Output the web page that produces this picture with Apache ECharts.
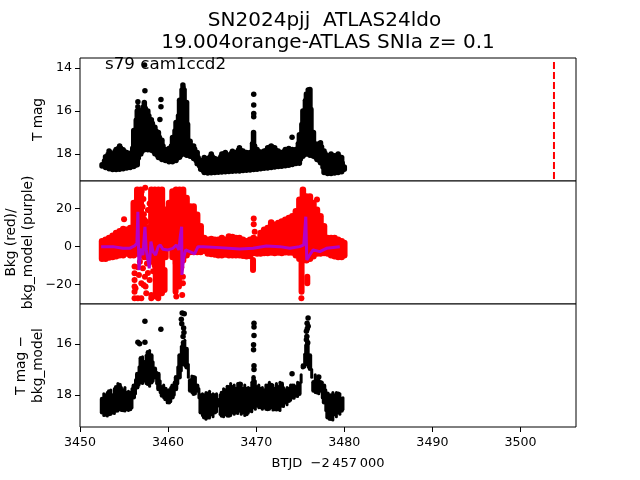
<!DOCTYPE html>
<html>
<head>
<meta charset="utf-8">
<style>html,body{margin:0;background:#fff}#main{width:640px;height:480px}</style>
<script src="https://cdn.jsdelivr.net/npm/echarts@6/dist/echarts.min.js"></script>
</head>
<body>
<div id="main"></div>
<script>
// time columns shared by the dense black bands
var btjd = [3452.5,3452.9,3453.3,3453.7,3454.1,3454.5,3454.9,3455.3,3455.7,3456.1,3456.5,3456.9,3457.3,3457.7,3458.1,3458.5,3458.9,3459.3,3459.7,3460.1,3460.5,3460.9,3461.3,3461.7,3462.1,3462.5,3462.9,3463.3,3463.7,3464.1,3464.5,3464.9,3465.3,3465.7,3466.1,3466.5,3466.9,3467.3,3467.7,3468.1,3468.5,3468.9,3469.3,3469.7,3470.1,3470.5,3470.9,3471.3,3471.7,3472.1,3472.5,3472.9,3473.3,3473.7,3474.1,3474.5,3474.9,3475.3,3475.7,3476.1,3476.5,3476.9,3477.3,3477.7,3478.1,3478.5,3478.9,3479.3,3479.7,3480.0];
// in-between columns for the finer spikes
var btjdMid = [3452.7,3453.1,3453.5,3453.9,3454.3,3454.7,3455.1,3455.5,3455.9,3456.3,3456.7,3457.1,3457.5,3457.9,3458.3,3458.7,3459.1,3459.5,3459.9,3460.3,3460.7,3461.1,3461.5,3461.9,3462.3,3462.7,3463.1,3463.5,3463.9,3464.3,3464.7,3465.1,3465.5,3465.9,3466.3,3466.7,3467.1,3467.5,3467.9,3468.3,3468.7,3469.1,3469.5,3469.9,3470.3,3470.7,3471.1,3471.5,3471.9,3472.3,3472.7,3473.1,3473.5,3473.9,3474.3,3474.7,3475.1,3475.5,3475.9,3476.3,3476.7,3477.1,3477.5,3477.9,3478.3,3478.7,3479.1,3479.5,3479.85];

// top panel, T mag
var magBright = [18.55,18.12,17.85,18.0,17.78,17.62,17.8,17.93,17.96,16.9,16.0,16.0,15.6,16.0,16.4,16.75,17.0,17.35,17.78,17.74,17.23,16.53,15.5,14.9,15.6,17.4,17.62,17.93,18.32,18.16,18.2,18.0,18.2,18.24,18.0,17.93,18.05,17.87,17.93,17.7,17.85,17.93,17.93,17.0,17.78,17.9,17.85,17.7,17.62,17.7,17.85,17.93,17.78,17.74,17.78,17.78,17.1,16.0,15.2,15.0,17.0,17.54,17.47,17.85,18.08,18.0,18.08,18.0,18.16,18.6];
var magFaint = [18.5,18.62,18.68,18.72,18.72,18.7,18.68,18.65,18.62,18.58,18.5,18.0,17.8,17.8,17.82,17.98,18.16,18.25,18.3,18.35,18.35,18.3,18.15,18.0,18.05,18.1,18.2,18.45,18.7,18.85,18.88,18.87,18.85,18.84,18.83,18.82,18.81,18.8,18.79,18.78,18.76,18.75,18.74,18.72,18.7,18.68,18.66,18.64,18.62,18.6,18.58,18.56,18.54,18.52,18.48,18.44,18.42,18.1,18.0,18.05,18.1,18.25,18.4,18.85,18.9,18.9,18.88,18.85,18.82,18.7];
var magMidBright = [18.3,18.0,17.9,17.85,17.7,17.7,17.85,17.95,17.7,16.4,15.9,15.8,15.85,16.2,16.55,16.9,17.2,17.6,17.8,17.6,16.9,16.2,15.0,15.0,16.6,17.6,17.75,18.15,18.25,18.2,18.1,18.1,18.25,18.1,17.95,18.0,17.95,17.9,17.8,17.8,17.9,17.95,17.5,17.6,17.85,17.9,17.8,17.65,17.65,17.8,17.9,17.85,17.75,17.75,17.8,17.5,16.6,15.5,15.0,15.9,17.5,17.5,17.65,17.95,18.05,18.05,18.05,18.1,18.4];
var magMidFaint = [18.55,18.65,18.7,18.72,18.71,18.69,18.66,18.63,18.6,18.55,18.2,17.9,17.8,17.8,17.9,18.08,18.2,18.28,18.32,18.35,18.32,18.22,18.08,18.02,18.08,18.15,18.32,18.58,18.78,18.86,18.88,18.86,18.84,18.83,18.82,18.81,18.8,18.79,18.78,18.77,18.75,18.74,18.73,18.71,18.69,18.67,18.65,18.63,18.61,18.59,18.57,18.55,18.53,18.5,18.46,18.43,18.25,18.05,18.02,18.08,18.18,18.32,18.62,18.88,18.9,18.89,18.86,18.84,18.76];
var magPointT = [3457.33,3457.37,3456.57,3456.57,3456.57,3459.19,3459.19,3459.07,3469.72,3469.72,3469.72,3469.72,3474.07,3461.68,3461.68,3475.9,3475.8];
var magPointV = [13.86,15.05,15.57,15.8,16.26,15.46,15.8,16.39,15.21,15.72,16.11,16.26,17.22,14.79,15.1,15.02,15.33];

// middle panel, background
var bkgHigh = [2.7,3.6,4.5,5.7,7.1,8,9.2,8.8,9.7,22.9,29.9,29.9,14,10,29.9,29.9,29.9,29.9,19.4,22.9,29,29.9,29.9,29.9,25.5,21.1,21.1,16.7,10.6,4.5,3.6,4,3.6,3.6,4.5,3.6,5.3,5,4.5,4.5,3.6,2.7,3.6,4.5,3.6,7.1,8.8,9.7,12.7,11.5,12.4,13.2,14.1,15,15.9,18.5,24.6,29.9,26.4,26.4,22.9,19.4,15.9,10.6,4.5,4.5,4.5,3.6,2.7,1.8];
var bkgLow = [-6.4,-6.4,-5.8,-5.5,-5.1,-4.6,-4.6,-3.7,-4.6,-4.6,-3.7,-4.6,-5.5,-5.5,-7.3,-9.9,-10.8,-10.8,-5.5,-0.2,-5.5,-9,-7.3,-7.3,-4.6,-2.9,-2.9,-2.9,-2.9,-2.3,-3.7,-3.9,-4.2,-4.6,-4.6,-4.2,-4.6,-4.6,-4.6,-4.6,-4.9,-5.1,-5,-3.4,-3.7,-3.7,-3.4,-3.4,-3.2,-3.4,-3.2,-3.4,-3,-3.2,-3.2,-4.6,-6.4,-7.3,-7.3,-6.4,-5.1,-3.7,-3.7,-3.4,-3.7,-4.6,-5.1,-5.5,-5.5,-4.6];
var bkgGapT = [3458.6,3458.88,3459.3,3459.6,3460.85,3461.23,3475.15,3469.64,3475.8];
var bkgGapHigh = [-10.6,-7.1,-7.1,-12.4,-7.1,-7.1,-7.1,-7.1,-15.9];
var bkgGapLow = [-26.4,-27.3,-24.6,-22.9,-23.8,-21.1,-23.8,-12.4,-19.4];
var bkgPointT = [3456.19,3456.19,3456.19,3456.19,3456.19,3456.19,3456.57,3456.57,3456.69,3456.96,3456.96,3457.14,3457.22,3457.37,3457.44,3457.52,3457.71,3457.9,3458.09,3458.09,3458.09,3460.93,3461.6,3461.68,3461.68,3475.13,3455.0,3469.72,3469.72,3469.83,3476.9,3457.0,3457.2,3457.1,3457.25,3457.71,3457.9,3457.4,3457.5,3456.3,3456.8,3457.6,3458.3,3461.5];
var bkgPointV = [-10.6,-14.1,-17.6,-21.1,-23.8,-27.3,-11,-27.3,-15,-19.4,-27.3,-11.5,-20.3,-15.9,-21.1,-24.6,-14,-17.6,-8,-25.5,-27.3,-26.4,-25.5,-15.9,-19.4,-27.3,14.3,14.8,11.7,7.8,24.8,29,25,21,17,19.2,22.7,31,13,-22,-8,-9,-13,-11];

// middle panel, purple model curve
var modelT = [3452.4,3453.73,3454.87,3455.63,3456.19,3456.46,3456.57,3456.69,3456.91,3457.14,3457.37,3457.52,3457.71,3457.86,3458.05,3458.28,3458.58,3458.88,3459.11,3459.41,3459.98,3460.55,3460.93,3461.23,3461.38,3461.54,3461.57,3461.76,3461.99,3462.44,3463.01,3463.39,3463.96,3465.85,3468.13,3469.64,3471.16,3472.67,3473.81,3474.94,3475.4,3475.63,3475.74,3476.08,3476.46,3477.22,3477.98,3479.49];
var modelV = [-0.08,-0.08,-0.96,-0.96,0.27,1.67,18.3,-12.4,-0.96,-4.5,10.4,-1.8,-7.1,-11.5,2.55,-2.7,-4.5,-0.08,0.8,-1.5,-1.8,-0.96,0.8,-1.8,5.2,10.4,-15,-6.2,-1.8,-2.7,-3.9,-0.08,-0.08,-0.6,-1.3,-0.96,0.27,-0.08,-0.96,-0.08,0.8,15.7,-7.1,-4.5,-1.8,-2.7,-0.96,-0.08];

// bottom panel, T mag minus bkg_model
var subBright = [18.15,18.02,17.86,18.02,17.69,17.6,17.82,17.92,17.92,17.63,17.17,16.56,16.71,16.32,16.45,16.97,17.17,17.69,17.76,17.82,17.63,17.3,16.45,15.93,16.19,17.43,17.3,17.63,18.02,18.02,17.95,18.02,18.02,18.2,17.92,17.82,17.69,17.69,17.76,17.63,17.76,17.76,17.76,17.3,17.69,17.76,17.82,17.63,17.6,17.76,17.69,17.56,17.82,17.76,17.63,17.69,17.56,16.84,16.06,16.45,17.5,17.43,17.5,17.63,17.95,18.02,18.02,17.95,18.15,18.28];
var subFaint = [18.67,18.76,18.74,18.67,18.6,18.54,18.58,18.54,18.54,18.08,17.69,17.5,17.43,17.56,17.5,17.3,17.76,18.02,18.15,18.28,18.08,17.76,17.3,16.78,16.91,17.82,17.95,17.82,18.67,18.87,18.87,18.74,18.67,18.4,18.8,18.74,18.8,18.67,18.67,18.6,18.67,18.74,18.6,18.47,18.41,18.47,18.47,18.54,18.47,18.54,18.54,18.41,18.28,18.22,18.08,18.02,17.95,16.91,16.78,16.97,17.82,17.89,17.82,18.28,18.87,18.93,18.74,18.67,18.6,18.28];
var subMidBright = [17.95,17.9,17.8,17.75,17.55,17.7,17.7,17.85,17.75,17.4,16.9,16.5,16.45,16.25,16.7,17.1,17.45,17.6,17.85,17.7,17.5,16.9,16.1,15.85,16.8,17.25,17.3,17.75,17.95,17.9,17.85,17.95,17.95,18.0,17.75,17.65,17.55,17.6,17.55,17.55,17.6,17.7,17.5,17.45,17.6,17.7,17.6,17.5,17.6,17.55,17.5,17.7,17.7,17.6,17.6,17.5,17.2,16.4,15.9,17.0,17.2,17.3,17.5,17.8,18.0,17.9,17.9,17.95,18.1];
var subMidFaint = [18.8,18.82,18.75,18.72,18.62,18.6,18.62,18.6,18.5,17.95,17.6,17.55,17.55,17.65,17.45,17.55,17.9,18.1,18.3,18.25,18.0,17.55,17.05,16.85,17.3,17.9,17.95,18.1,18.8,18.95,18.9,18.85,18.65,18.75,18.85,18.82,18.8,18.75,18.72,18.75,18.8,18.7,18.65,18.55,18.5,18.55,18.55,18.55,18.58,18.58,18.6,18.45,18.38,18.2,18.12,18.05,17.5,16.9,16.9,17.3,17.9,17.95,18.1,18.6,18.95,18.98,18.85,18.75,18.55];
var subPointT = [3456.57,3456.76,3457.37,3457.37,3459.18,3461.6,3461.83,3461.5,3461.76,3461.7,3469.75,3469.75,3469.75,3469.7,3469.7,3469.75,3469.75,3474.07,3468.16,3477.1,3475.89,3475.78,3475.7,3475.7,3461.55,3461.8,3475.8,3475.75,3475.9,3475.85];
var subPointV = [15.93,15.99,15.11,15.93,15.42,14.78,14.81,15.03,15.37,15.7,15.18,15.33,15.66,16.03,16.22,16.85,17.0,17.16,17.57,17.29,14.98,15.18,15.5,15.83,15.2,15.55,15.4,15.7,15.3,15.95];

var xTicks = [3450,3460,3470,3480,3490,3500];
var magTicks = [14,16,18];
var bkgTicks = [-20,0,20];
var subTicks = [16,18];
var peakLineT = [3503.8,3503.8];
var peakLineV = [13.72,19.25];

var FONT = "DejaVu Sans";

function zip(a, b) { return a.map(function (v, i) { return [v, b[i]]; }); }

function bandData(t, hi, lo) { return t.map(function (v, i) { return [v, hi[i], lo[i]]; }); }

function band(idx, data, color, width) {
  return {
    type: "custom", xAxisIndex: idx, yAxisIndex: idx, data: data, silent: true,
    encode: { x: 0, y: [1, 2] },
    renderItem: function (params, api) {
      var a = api.coord([api.value(0), api.value(1)]);
      var b = api.coord([api.value(0), api.value(2)]);
      return {
        type: "line",
        shape: { x1: a[0], y1: a[1], x2: b[0], y2: b[1] },
        style: { stroke: color, lineWidth: width, lineCap: "round" }
      };
    }
  };
}

function points(idx, data, color, size) {
  return { type: "scatter", xAxisIndex: idx, yAxisIndex: idx, data: data, symbolSize: size, silent: true, itemStyle: { color: color, opacity: 1 } };
}

function tickText(v) { return String(v).replace("-", "\u2212"); }

function xAxis(idx, labels) {
  return {
    type: "value", gridIndex: idx, min: 3450, max: 3506.3, splitLine: { show: false },
    axisLine: { show: false },
    axisTick: { show: labels, length: 5, lineStyle: { color: "#000", width: 1 }, customValues: xTicks },
    axisLabel: { show: labels, color: "#000", fontSize: 12.6, margin: 9.5, fontFamily: FONT, formatter: tickText, customValues: xTicks },
    name: labels ? "BTJD  \u22122\u2009457\u2009000" : "",
    nameLocation: "middle", nameGap: 30, nameMoveOverlap: false, nameTextStyle: { color: "#000", fontSize: 13, fontFamily: FONT }
  };
}

function yAxis(idx, min, max, inverse, ticks, name, gap) {
  return {
    type: "value", gridIndex: idx, min: min, max: max, inverse: inverse, splitLine: { show: false },
    axisLine: { show: false },
    axisTick: { length: 5, lineStyle: { color: "#000", width: 1 }, customValues: ticks },
    axisLabel: { color: "#000", fontSize: 12.6, margin: 8, fontFamily: FONT, formatter: tickText, customValues: ticks },
    name: name, nameLocation: "middle", nameGap: gap, nameRotate: 90, nameMoveOverlap: false,
    nameTextStyle: { color: "#000", fontSize: 13.7, lineHeight: 17, fontFamily: FONT }
  };
}

function grid(top) {
  return { left: 80, width: 496, top: top, height: 123, show: true, borderColor: "#000", borderWidth: 1, backgroundColor: "#fff", outerBoundsMode: "none" };
}

function label(text, left, top, size, align) {
  return { text: text, left: left, top: top, padding: 0, textAlign: align, textStyle: { color: "#000", fontSize: size, fontWeight: "normal", fontFamily: FONT } };
}

var myChart = echarts.init(document.getElementById("main"), null, { renderer: "canvas" });
myChart.setOption({
  animation: false,
  backgroundColor: "#fff",
  title: [
    label("SN2024pjj  ATLAS24ldo", 324.5, 11, 20, "center"),
    label("19.004orange-ATLAS SNIa z= 0.1", 328, 33, 20, "center"),
    label("s79 cam1ccd2", 105, 56, 16.7, "left")
  ],
  grid: [grid(58), grid(181), grid(304)],
  xAxis: [xAxis(0, false), xAxis(1, false), xAxis(2, true)],
  yAxis: [
    yAxis(0, 13.53, 19.25, true, magTicks, "T mag", 33),
    yAxis(1, -30.3, 34.5, false, bkgTicks, "Bkg (red)/\nbkg_model (purple)", 43),
    yAxis(2, 14.43, 19.25, true, subTicks, "T mag \u2212\nbkg_model", 33)
  ],
  series: [
    band(0, bandData(btjd, magBright, magFaint), "#000", 5.5),
    band(0, bandData(btjdMid, magMidBright, magMidFaint), "#000", 4),
    points(0, zip(magPointT, magPointV), "#000", 5.5),
    { type: "line", xAxisIndex: 0, yAxisIndex: 0, data: zip(peakLineT, peakLineV), showSymbol: false, silent: true, lineStyle: { color: "#f00", width: 2, type: [7, 3] } },
    band(1, bandData(btjd, bkgHigh, bkgLow), "#f00", 6.5),
    band(1, bandData(bkgGapT, bkgGapHigh, bkgGapLow), "#f00", 6),
    points(1, zip(bkgPointT, bkgPointV), "#f00", 6),
    { type: "line", xAxisIndex: 1, yAxisIndex: 1, data: zip(modelT, modelV), showSymbol: false, silent: true, z: 5, lineStyle: { color: "#b400c8", width: 3 } },
    band(2, bandData(btjd, subBright, subFaint), "#000", 4.5),
    band(2, bandData(btjdMid, subMidBright, subMidFaint), "#000", 3),
    points(2, zip(subPointT, subPointV), "#000", 5.5)
  ]
});
</script>
</body>
</html>
